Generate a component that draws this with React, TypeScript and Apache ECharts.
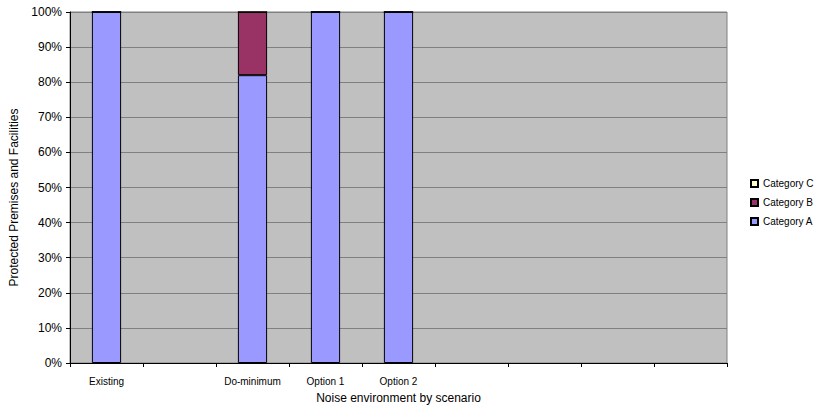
import React, { useEffect, useRef } from "react";
import * as echarts from "echarts";

const categories = ["Existing", "", "Do-minimum", "Option 1", "Option 2", "", "", "", ""];
const categoryA = [100, null, 82, 100, 100, null, null, null, null];
const categoryB = [0, null, 18, 0, 0, null, null, null, null];
const categoryC = [0, null, 0, 0, 0, null, null, null, null];
const yTicks = [0, 10, 20, 30, 40, 50, 60, 70, 80, 90, 100];

const FONT = "Liberation Sans, Arial, sans-serif";

export default function App() {
  const ref = useRef<HTMLDivElement>(null);
  useEffect(() => {
    const chart = echarts.init(ref.current!, null, { renderer: "svg" });
    const barStyle = (color: string) => ({ color, borderColor: "#000", borderWidth: 1 });
    chart.setOption({
      animation: false,
      textStyle: { fontFamily: FONT },
      grid: {
        left: 70,
        top: 12,
        width: 657,
        height: 351,
        show: true,
        backgroundColor: "#C0C0C0",
        borderColor: "#808080",
        borderWidth: 1,
      },
      legend: {
        orient: "vertical",
        left: 750,
        top: 178,
        padding: 0,
        itemWidth: 7,
        itemHeight: 7,
        itemGap: 8,
        icon: "rect",
        data: ["Category C", "Category B", "Category A"],
        textStyle: { fontSize: 10, color: "#000", lineHeight: 11 },
      },
      xAxis: {
        type: "category",
        data: categories,
        name: "Noise environment by scenario",
        nameLocation: "middle",
        nameGap: 29,
        nameTextStyle: { fontSize: 12, color: "#000" },
        axisLine: { lineStyle: { color: "#000", width: 1 } },
        axisTick: { show: true, length: 4, lineStyle: { color: "#000" } },
        axisLabel: { fontSize: 10, color: "#000", margin: 13, interval: 0 },
      },
      yAxis: {
        type: "value",
        min: yTicks[0],
        max: yTicks[yTicks.length - 1],
        interval: 10,
        name: "Protected Premises and Facilities",
        nameLocation: "middle",
        nameGap: 48,
        nameTextStyle: { fontSize: 12, color: "#000", padding: [0, 20, 0, 0] },
        axisLine: { show: true, lineStyle: { color: "#000", width: 1 } },
        axisTick: { show: true, length: 4, lineStyle: { color: "#000" } },
        axisLabel: { fontSize: 12, color: "#000", margin: 8, formatter: "{value}%" },
        splitLine: { show: true, lineStyle: { color: "#808080", width: 1 } },
      },
      series: [
        { name: "Category A", type: "bar", stack: "s", barWidth: "40%", data: categoryA, itemStyle: barStyle("#9999FF") },
        { name: "Category B", type: "bar", stack: "s", barWidth: "40%", data: categoryB, itemStyle: barStyle("#993366") },
        { name: "Category C", type: "bar", stack: "s", barWidth: "40%", data: categoryC, itemStyle: barStyle("#FFFFCC") },
      ],
    });
    return () => chart.dispose();
  }, []);
  return <div ref={ref} style={{ width: 814, height: 409, position: "absolute", left: 0, top: 0 }} />;
}
